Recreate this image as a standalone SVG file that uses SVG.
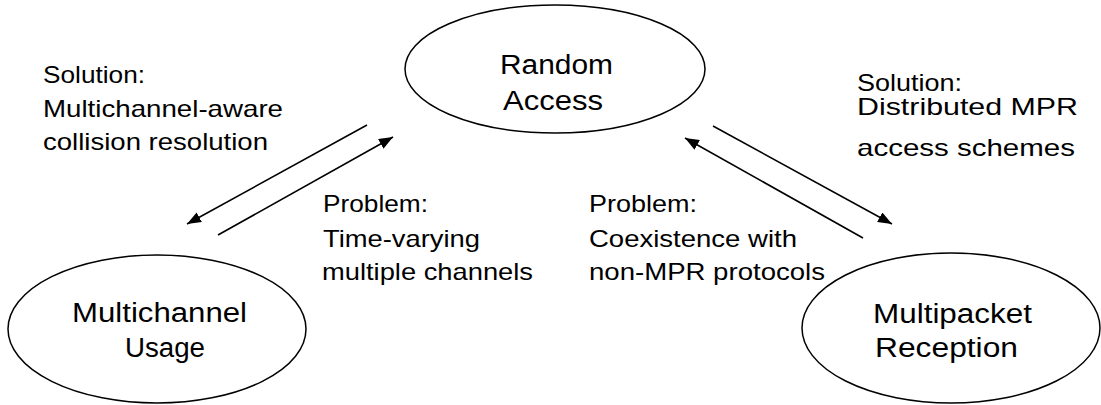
<svg xmlns="http://www.w3.org/2000/svg" width="1101" height="405" viewBox="0 0 1101 405">
  <style>
    .node { fill: #ffffff; stroke: #000000; stroke-width: 1.5; }
    .label { font-family: "Liberation Sans", Arial, sans-serif; font-size: 27px; fill: #000000; }
    .note { font-family: "Liberation Sans", Arial, sans-serif; font-size: 24px; fill: #000000; }
    .link { stroke: #000000; stroke-width: 1.6; fill: none; marker-end: url(#head); }
  </style>
  <defs>
    <marker id="head" markerUnits="userSpaceOnUse" markerWidth="15" markerHeight="11" refX="14" refY="5.5" orient="auto">
      <path d="M0,0 L14,5.5 L0,11 z" fill="#000000"/>
    </marker>
  </defs>
  <rect width="1101" height="405" fill="#ffffff"/>

  <g id="random-access">
    <ellipse class="node" cx="555" cy="69" rx="150" ry="64"/>
    <text class="label" x="500" y="74" textLength="113" lengthAdjust="spacingAndGlyphs">Random</text>
    <text class="label" x="503" y="110" textLength="100" lengthAdjust="spacingAndGlyphs">Access</text>
  </g>

  <g id="multichannel-usage">
    <ellipse class="node" cx="157" cy="329" rx="149" ry="74"/>
    <text class="label" x="72" y="322" textLength="175" lengthAdjust="spacingAndGlyphs">Multichannel</text>
    <text class="label" x="125" y="357" textLength="80" lengthAdjust="spacingAndGlyphs">Usage</text>
  </g>

  <g id="multipacket-reception">
    <ellipse class="node" cx="951" cy="328" rx="149" ry="75"/>
    <text class="label" x="873" y="323" textLength="159" lengthAdjust="spacingAndGlyphs">Multipacket</text>
    <text class="label" x="875" y="357" textLength="143" lengthAdjust="spacingAndGlyphs">Reception</text>
  </g>

  <g id="connectors">
    <line class="link" x1="367" y1="125" x2="187" y2="224"/>
    <line class="link" x1="218" y1="235" x2="393" y2="137"/>
    <line class="link" x1="713" y1="126" x2="892" y2="224"/>
    <line class="link" x1="863" y1="238" x2="685" y2="138"/>
  </g>

  <g id="note-left-solution">
    <text class="note" x="43" y="83" textLength="102" lengthAdjust="spacingAndGlyphs">Solution:</text>
    <text class="note" x="43" y="117" textLength="240" lengthAdjust="spacingAndGlyphs">Multichannel-aware</text>
    <text class="note" x="43" y="150" textLength="225" lengthAdjust="spacingAndGlyphs">collision resolution</text>
  </g>

  <g id="note-left-problem">
    <text class="note" x="323" y="212" textLength="105" lengthAdjust="spacingAndGlyphs">Problem:</text>
    <text class="note" x="323" y="247" textLength="157" lengthAdjust="spacingAndGlyphs">Time-varying</text>
    <text class="note" x="322" y="280" textLength="211" lengthAdjust="spacingAndGlyphs">multiple channels</text>
  </g>

  <g id="note-right-problem">
    <text class="note" x="589" y="212" textLength="108" lengthAdjust="spacingAndGlyphs">Problem:</text>
    <text class="note" x="589" y="247" textLength="208" lengthAdjust="spacingAndGlyphs">Coexistence with</text>
    <text class="note" x="589" y="280" textLength="236" lengthAdjust="spacingAndGlyphs">non-MPR protocols</text>
  </g>

  <g id="note-right-solution">
    <text class="note" x="857" y="91" textLength="105" lengthAdjust="spacingAndGlyphs">Solution:</text>
    <text class="note" x="857" y="115" textLength="221" lengthAdjust="spacingAndGlyphs">Distributed MPR</text>
    <text class="note" x="857" y="156" textLength="218" lengthAdjust="spacingAndGlyphs">access schemes</text>
  </g>
</svg>
